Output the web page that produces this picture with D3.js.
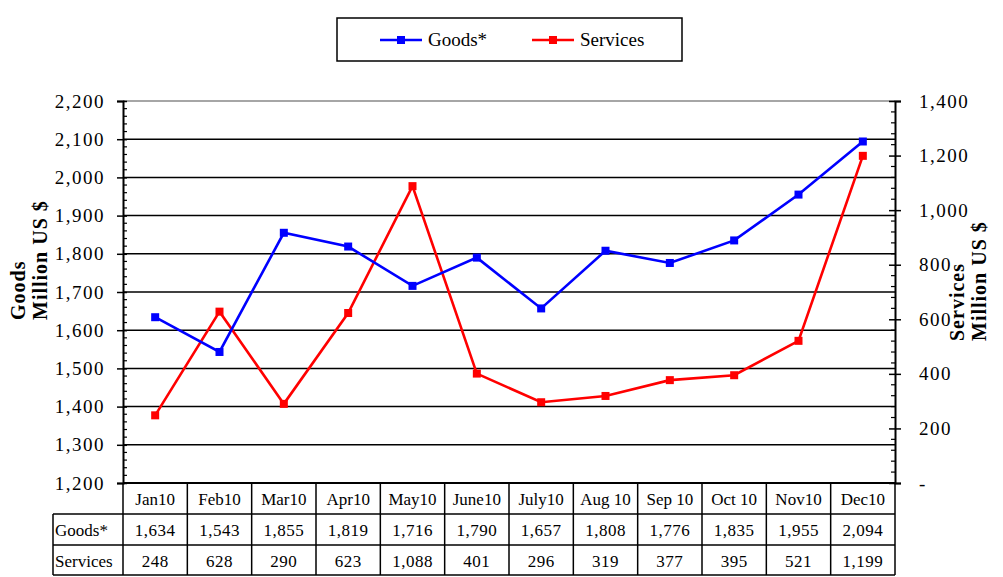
<!DOCTYPE html>
<html>
<head>
<meta charset="utf-8">
<script src="https://cdn.jsdelivr.net/npm/d3@7"></script>
<style>
  body { margin: 0; background: #fff; }
  text { font-family: "Liberation Serif", "Times New Roman", serif; fill: #000; }
</style>
</head>
<body>
<script>
var months = ['Jan10', 'Feb10', 'Mar10', 'Apr10', 'May10', 'June10', 'July10', 'Aug 10', 'Sep 10', 'Oct 10', 'Nov10', 'Dec10'];
var goods = [1634, 1543, 1855, 1819, 1716, 1790, 1657, 1808, 1776, 1835, 1955, 2094];
var services = [248, 628, 290, 623, 1088, 401, 296, 319, 377, 395, 521, 1199];
var goodsTicks = [1200, 1300, 1400, 1500, 1600, 1700, 1800, 1900, 2000, 2100, 2200];
var servicesTicks = [0, 200, 400, 600, 800, 1000, 1200, 1400];

var w = 1003, h = 577;
var pLeft = 123, pRight = 895, pTop = 101, pBottom = 483;
var rowH = 31;

var svg = d3.select("body").append("svg")
    .attr("width", w)
    .attr("height", h);

var x = d3.scaleBand().domain(months).range([pLeft, pRight]);
var y = d3.scaleLinear().domain([1200, 2200]).range([pBottom, pTop]);
var y2 = d3.scaleLinear().domain([0, 1400]).range([pBottom, pTop]);
var fmt = d3.format(",");

// gridlines
svg.append("g").selectAll("line")
    .data(goodsTicks.slice(1))
    .enter().append("line")
    .attr("x1", pLeft).attr("x2", pRight)
    .attr("y1", function(d) { return y(d); })
    .attr("y2", function(d) { return y(d); })
    .attr("stroke", function(d) { return d === 2200 ? "#888" : "#000"; })
    .attr("stroke-width", 1.5);

// left axis
var yAxis = d3.axisLeft(y).tickValues(goodsTicks).tickFormat(fmt).tickSize(6).tickPadding(12);
var gy = svg.append("g").attr("transform", "translate(" + pLeft + ",0)").call(yAxis);
gy.select(".domain").attr("stroke-width", 2);
gy.selectAll(".tick line").attr("x2", -6).attr("x1", 4).attr("stroke-width", 1.5);
gy.selectAll("text").style("font-size", "19px").style("letter-spacing", "1.5px")
    .style("font-family", "Liberation Serif");
var minorL = d3.range(1200, 2200, 20).filter(function(d) { return d % 100 !== 0; });
svg.append("g").selectAll("line").data(minorL).enter().append("line")
    .attr("x1", pLeft).attr("x2", pLeft + 4)
    .attr("y1", function(d) { return y(d); }).attr("y2", function(d) { return y(d); })
    .attr("stroke", "#000").attr("stroke-width", 1.2);

// right axis
var y2Axis = d3.axisRight(y2).tickValues(servicesTicks)
    .tickFormat(function(d) { return d === 0 ? "-" : fmt(d); })
    .tickSize(6).tickPadding(18);
var gy2 = svg.append("g").attr("transform", "translate(" + pRight + ",0)").call(y2Axis);
gy2.select(".domain").attr("stroke-width", 2);
gy2.selectAll(".tick line").attr("x1", -6).attr("x2", 6).attr("stroke-width", 1.5);
gy2.selectAll("text").style("font-size", "19px").style("letter-spacing", "1.5px")
    .style("font-family", "Liberation Serif");
var minorR = d3.range(0, 1400, 40).filter(function(d) { return d % 200 !== 0; });
svg.append("g").selectAll("line").data(minorR).enter().append("line")
    .attr("x1", pRight - 4).attr("x2", pRight)
    .attr("y1", function(d) { return y2(d); }).attr("y2", function(d) { return y2(d); })
    .attr("stroke", "#000").attr("stroke-width", 1.2);

// axis titles
function axisTitle(tx, ty, lines) {
  var t = svg.append("text")
      .attr("transform", "translate(" + tx + "," + ty + ") rotate(-90)")
      .style("font-size", "20px").style("font-weight", "bold").style("letter-spacing", "1px");
  lines.forEach(function(s, i) {
    t.append("tspan").attr("x", 0).attr("dy", i === 0 ? 0 : 22).text(s);
  });
}
axisTitle(25, 320, ["Goods", "Million US $"]);
axisTitle(964, 341, ["Services", "Million US $"]);

// lines
var cx = function(d, i) { return x(months[i]) + x.bandwidth() / 2; };
function series(vals, scale, color) {
  var line = d3.line().x(function(d, i) { return cx(d, i); }).y(function(d) { return scale(d); });
  svg.append("path").datum(vals)
      .attr("d", line).attr("fill", "none")
      .attr("stroke", color).attr("stroke-width", 2.6);
  svg.append("g").selectAll("rect").data(vals).enter().append("rect")
      .attr("x", function(d, i) { return cx(d, i) - 4; })
      .attr("y", function(d) { return scale(d) - 4; })
      .attr("width", 8).attr("height", 8)
      .attr("fill", color);
}
series(services, y2, "#ff0000");
series(goods, y, "#0000ff");

// data table
var tbl = svg.append("g");
var tableLeft = 53;
[pBottom, pBottom + rowH, pBottom + 2 * rowH, pBottom + 3 * rowH - 1].forEach(function(yy, i) {
  tbl.append("line")
      .attr("x1", i === 0 ? pLeft : tableLeft).attr("x2", pRight)
      .attr("y1", yy).attr("y2", yy)
      .attr("stroke", "#000").attr("stroke-width", i === 0 ? 2 : 1.5);
});
tbl.append("line").attr("x1", tableLeft).attr("x2", tableLeft)
    .attr("y1", pBottom + rowH).attr("y2", pBottom + 3 * rowH - 1)
    .attr("stroke", "#000").attr("stroke-width", 1.5);
months.concat(["_end"]).forEach(function(m, i) {
  var xx = i < months.length ? x(m) : pRight;
  tbl.append("line").attr("x1", xx).attr("x2", xx)
      .attr("y1", pBottom).attr("y2", pBottom + 3 * rowH - 1)
      .attr("stroke", "#000").attr("stroke-width", 1.5);
});
tbl.selectAll(".hdr").data(months).enter().append("text")
    .attr("x", function(d) { return x(d) + x.bandwidth() / 2; })
    .attr("y", pBottom + 22)
    .attr("text-anchor", "middle").style("font-size", "17px")
    .text(function(d) { return d; });
tbl.selectAll(".gv").data(goods).enter().append("text")
    .attr("x", function(d, i) { return cx(d, i); })
    .attr("y", pBottom + rowH + 22)
    .attr("text-anchor", "middle").style("font-size", "17px").style("letter-spacing", "0.5px")
    .text(function(d) { return fmt(d); });
tbl.selectAll(".sv").data(services).enter().append("text")
    .attr("x", function(d, i) { return cx(d, i); })
    .attr("y", pBottom + 2 * rowH + 22)
    .attr("text-anchor", "middle").style("font-size", "17px").style("letter-spacing", "0.5px")
    .text(function(d) { return fmt(d); });
tbl.append("text").attr("x", tableLeft + 2).attr("y", pBottom + rowH + 22)
    .style("font-size", "17px").text("Goods*");
tbl.append("text").attr("x", tableLeft + 2).attr("y", pBottom + 2 * rowH + 22)
    .style("font-size", "17px").text("Services");

// legend
var lg = svg.append("g");
lg.append("rect").attr("x", 337).attr("y", 18).attr("width", 345).attr("height", 43)
    .attr("fill", "#fff").attr("stroke", "#000").attr("stroke-width", 1.5);
[{name: "Goods*", color: "#0000ff", x: 380}, {name: "Services", color: "#ff0000", x: 532}].forEach(function(d) {
  lg.append("line").attr("x1", d.x).attr("x2", d.x + 42).attr("y1", 40).attr("y2", 40)
      .attr("stroke", d.color).attr("stroke-width", 2.6);
  lg.append("rect").attr("x", d.x + 17).attr("y", 36).attr("width", 8).attr("height", 8).attr("fill", d.color);
  lg.append("text").attr("x", d.x + 48).attr("y", 46).style("font-size", "19px").text(d.name);
});
</script>
</body>
</html>
